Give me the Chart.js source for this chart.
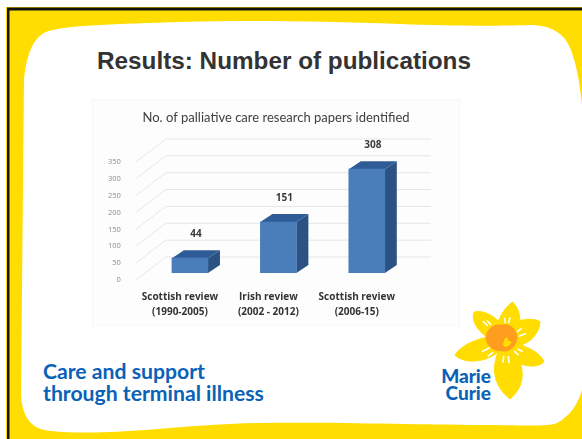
<!DOCTYPE html>
<html>
<head>
<meta charset="utf-8">
<title>Results: Number of publications</title>
<script src="https://cdn.jsdelivr.net/npm/chart.js@4/dist/chart.umd.min.js"></script>
<style>
    html, body { margin: 0; padding: 0; background: #fff; }
    #slide { position: relative; width: 582px; height: 439px; overflow: hidden; }
    #slide svg { position: absolute; left: 0; top: 0; }
    #heading { position: absolute; left: 97px; top: 47px; font: bold 24.3px "Liberation Sans", sans-serif; color: #333; white-space: nowrap; }
    #chart-box { position: absolute; left: 93px; top: 100px; width: 366px; height: 225px; background: #fdfdfd; box-shadow: 0 0 0 1px #f7f7f7; }
    .tagline { position: absolute; left: 43px; font: bold 21.2px "Lato", sans-serif; color: #0a62b8; white-space: nowrap; }
</style>
</head>
<body>
<div id="slide">
    <!-- Slide frame and daffodil logo -->
    <svg width="582" height="439" viewBox="0 0 582 439">
        <rect x="6" y="7" width="576" height="432" fill="#ffdd00"/>
        <rect x="7" y="7" width="575" height="1" fill="#8a7600"/>
        <rect x="7" y="8" width="575" height="2.5" fill="#111"/>
        <rect x="7" y="8" width="2.5" height="431" fill="#111"/>
        <path fill="#fff" d="M24 80 C26 58 32 38 46 32 C62 25 120 24 180 22 C250 20 320 21 400 24 C450 26 500 26 530 25
            C552 25 565 34 571 50 C577 66 580 85 582 105 L582 390 C578 404 570 416 557 423 C548 427 520 425 480 425
            C420 425 340 422 260 423 C200 424 150 431 110 432 C80 433 50 433 38 428 C26 422 22 410 21 395 Z"/>
        <g transform="translate(430 290) scale(0.3333)">
            <g fill="#ffdd00" stroke="#ffdd00" stroke-width="3" stroke-linejoin="round">
                <path d="M200 110 C208 75 233 44 248 36 C268 55 278 95 262 125 Z"/>
                <path d="M185 150 C140 125 122 88 133 66 C165 58 210 85 225 125 Z"/>
                <path d="M235 105 C265 88 310 82 330 95 C328 130 300 165 250 170 Z"/>
                <path d="M180 140 C130 148 88 172 75 195 C100 222 175 222 215 175 Z"/>
                <path d="M235 160 C280 160 332 188 342 215 C320 238 265 232 225 190 Z"/>
                <path d="M205 185 C185 232 188 285 240 327 C285 290 288 232 252 185 Z"/>
            </g>
            <path fill="#ff9d1e" d="M167 140 C170 118 190 100 215 104 C238 98 262 118 262 142 C262 168 240 188 214 184 C190 186 165 165 167 140 Z"/>
            <path fill="#ffdd00" d="M218 165 L224 146 L232 142 L236 152 L246 156 L238 166 L228 172 Z"/>
            <g stroke="#fff" stroke-width="5" stroke-linecap="round">
                <line x1="160" y1="95" x2="172" y2="106"/>
                <line x1="172" y1="93" x2="182" y2="103"/>
                <line x1="224" y1="85" x2="226" y2="98"/>
                <line x1="240" y1="84" x2="236" y2="97"/>
                <line x1="262" y1="125" x2="274" y2="116"/>
                <line x1="268" y1="138" x2="286" y2="131"/>
                <line x1="158" y1="184" x2="178" y2="174"/>
                <line x1="175" y1="198" x2="188" y2="188"/>
                <line x1="221" y1="200" x2="219" y2="216"/>
                <line x1="235" y1="200" x2="237" y2="218"/>
                <line x1="254" y1="185" x2="264" y2="194"/>
                <line x1="264" y1="178" x2="276" y2="184"/>
            </g>
        </g>
        <g font-family="Lato, sans-serif" font-weight="900" font-size="19" fill="#0a62b8" text-anchor="end">
            <text x="491" y="383">Marie</text>
            <text x="491" y="400">Curie</text>
        </g>
    </svg>
    <div id="heading">Results: Number of publications</div>
    <div class="tagline" style="top: 358px;">Care and support</div>
    <div class="tagline" style="top: 380px;">through terminal illness</div>
    <div id="chart-box"><canvas id="papers-chart" width="366" height="225"></canvas></div>
</div>

<script>
var categories = [['Scottish review', '(1990-2005)'], ['Irish review', '(2002 - 2012)'], ['Scottish review', '(2006-15)']];
var paperCounts = [44, 151, 308];
var chartTitle = 'No. of palliative care research papers identified';

// Offsets used to fake the 3D look of the original chart
var wallOffset = { x: 30, y: -23 }; // Front of the floor to the back wall
var barOffset = { x: 10, y: -7 }; // Front of the floor to the front face of the bars
var barDepth = { x: 12, y: -8 }; // Depth of each bar

var frontColor = '#4a7ebb';
var topColor = '#2f5c96';
var sideColor = '#2c5183';
var gridColor = '#e6e6e6';

// Draw a filled four sided face
function drawFace(ctx, color, points) {
    ctx.fillStyle = color;
    ctx.beginPath();
    ctx.moveTo(points[0][0], points[0][1]);
    ctx.lineTo(points[1][0], points[1][1]);
    ctx.lineTo(points[2][0], points[2][1]);
    ctx.lineTo(points[3][0], points[3][1]);
    ctx.closePath();
    ctx.fill();
}

// Back wall lines, floor diagonals, bar sides, value labels and the title
var fake3d = {
    id: 'fake3d',
    beforeDatasetsDraw: function (chart) {
        var ctx = chart.ctx;
        var yScale = chart.scales.y;
        var area = chart.chartArea;

        ctx.save();
        ctx.strokeStyle = gridColor;
        ctx.lineWidth = 1;
        yScale.ticks.forEach(function (tick) {
            var y = yScale.getPixelForValue(tick.value);
            ctx.beginPath();
            ctx.moveTo(area.left, y);
            ctx.lineTo(area.left + wallOffset.x, y + wallOffset.y);
            ctx.lineTo(area.right + wallOffset.x, y + wallOffset.y);
            ctx.stroke();
        });
        ctx.restore();

        // Bars sit a little way back from the front of the floor
        ctx.save();
        ctx.translate(barOffset.x, barOffset.y);
        chart.getDatasetMeta(0).data.forEach(function (bar) {
            var left = bar.x - bar.width / 2;
            var right = bar.x + bar.width / 2;
            drawFace(ctx, sideColor, [[right, bar.y], [right + barDepth.x, bar.y + barDepth.y], [right + barDepth.x, bar.base + barDepth.y], [right, bar.base]]);
            drawFace(ctx, topColor, [[left, bar.y], [left + barDepth.x, bar.y + barDepth.y], [right + barDepth.x, bar.y + barDepth.y], [right, bar.y]]);
        });
    },
    afterDatasetsDraw: function (chart) {
        var ctx = chart.ctx;
        ctx.restore(); // Undo the translate from beforeDatasetsDraw

        ctx.save();
        ctx.font = 'bold 10px "Open Sans", sans-serif';
        ctx.fillStyle = '#3a3a3a';
        ctx.textAlign = 'center';
        ctx.textBaseline = 'middle';
        chart.getDatasetMeta(0).data.forEach(function (bar, i) {
            ctx.fillText(paperCounts[i], bar.x + barOffset.x + 6, bar.y + barOffset.y - 24);
        });

        // Title is centred on the whole box, not on the plot area
        ctx.font = '13px "Lato", sans-serif';
        ctx.fillStyle = '#404040';
        ctx.fillText(chartTitle, chart.width / 2, 18);
        ctx.restore();
    }
};

new Chart(document.getElementById('papers-chart'), {
    type: 'bar',
    data: {
        labels: categories,
        datasets: [{
            data: paperCounts,
            backgroundColor: frontColor,
            barThickness: 36
        }]
    },
    plugins: [fake3d],
    options: {
        responsive: false,
        animation: false,
        layout: { padding: { top: 62, right: 58 } },
        scales: {
            x: {
                grid: { display: false },
                border: { display: false },
                ticks: {
                    padding: 2,
                    maxRotation: 0,
                    color: '#333',
                    font: { family: 'Open Sans', size: 10, weight: 'bold', lineHeight: 1.5 }
                },
                afterFit: function (scale) { scale.height = 45; }
            },
            y: {
                min: 0,
                max: 350,
                grid: { display: false },
                border: { display: false },
                ticks: {
                    stepSize: 50,
                    padding: 7,
                    color: '#8c8c8c',
                    font: { family: 'Open Sans', size: 7.5 }
                },
                afterFit: function (scale) { scale.width = 42.75; }
            }
        },
        plugins: {
            legend: { display: false }, // Hide the legend
            tooltip: { enabled: false }
        }
    }
});
</script>
</body>
</html>
